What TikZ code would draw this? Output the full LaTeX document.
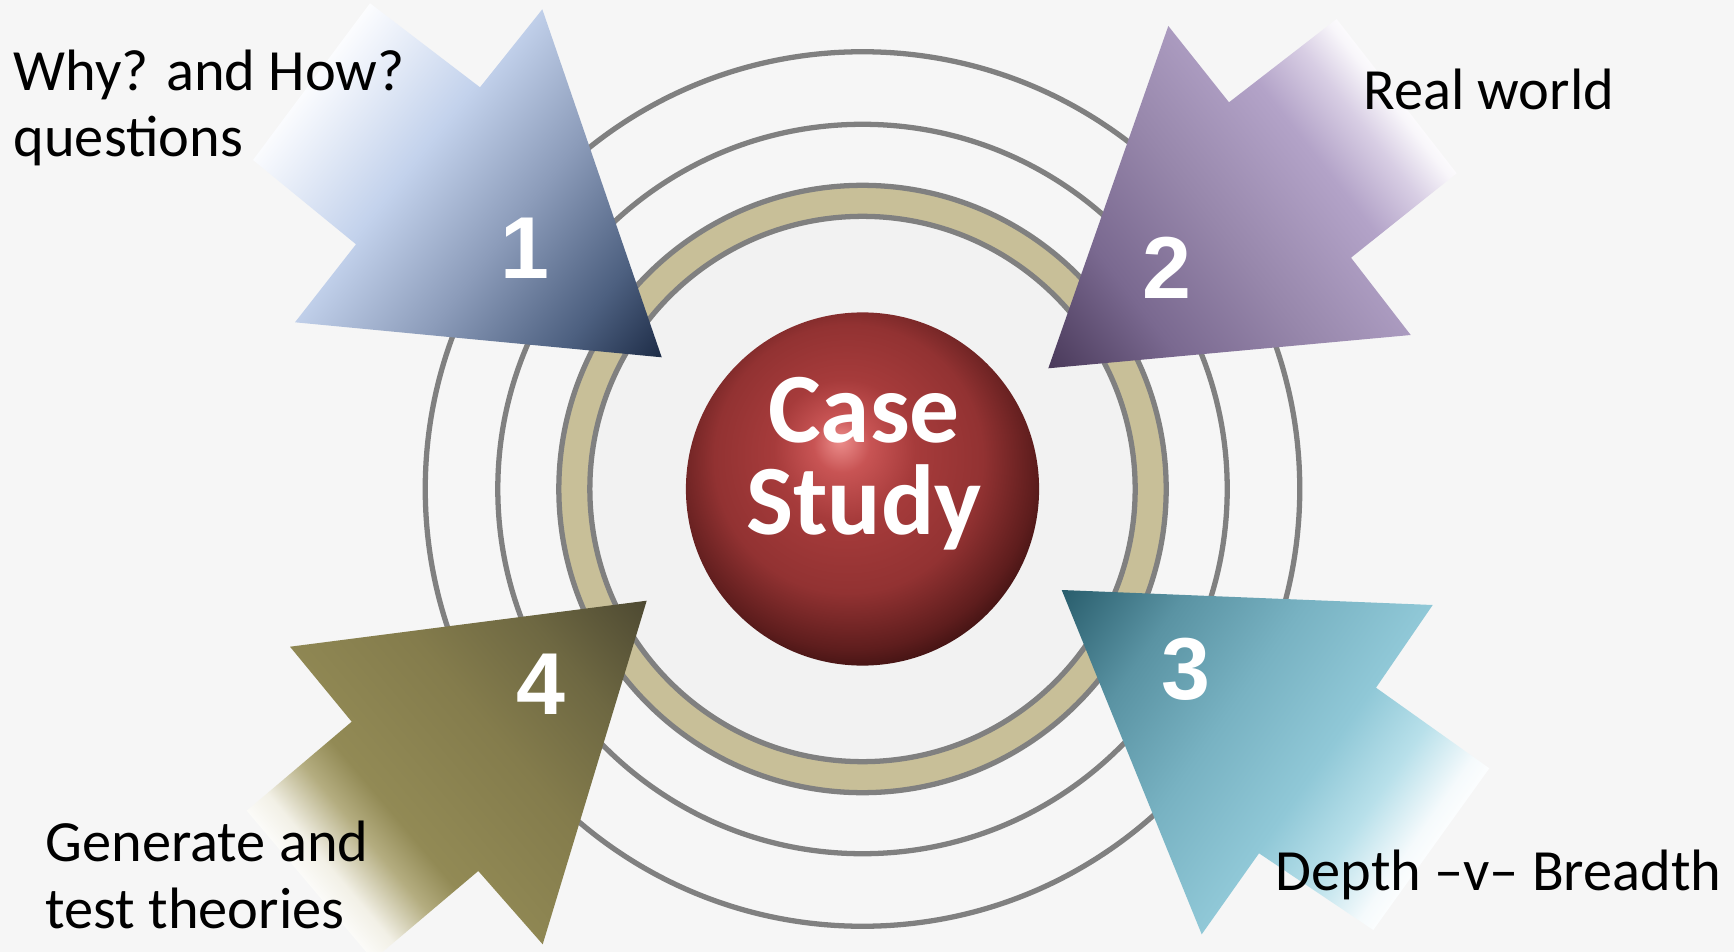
\documentclass[tikz,border=0pt]{standalone}
\usepackage{fontspec}
\setmainfont{Carlito}
\newfontfamily\numfont{Liberation Sans}
\usetikzlibrary{calc}

\definecolor{marble}{HTML}{F6F6F6}
\definecolor{ringgray}{HTML}{808080}
\definecolor{ringtan}{HTML}{C8BF98}
\definecolor{discgray}{HTML}{F2F2F2}

% arrow colours
\definecolor{oneA}{HTML}{F3F6FC}\definecolor{oneB}{HTML}{C3D2EC}\definecolor{oneC}{HTML}{8C9CBA}
\definecolor{oneD}{HTML}{4D6080}\definecolor{oneE}{HTML}{17253F}
\definecolor{twoA}{HTML}{F8F6FA}\definecolor{twoB}{HTML}{D8CEE4}\definecolor{twoC}{HTML}{B3A3C8}
\definecolor{twoD}{HTML}{9787AB}\definecolor{twoE}{HTML}{7A6990}\definecolor{twoF}{HTML}{453555}
\definecolor{threeA}{HTML}{F5FAFC}\definecolor{threeB}{HTML}{B8E0EA}\definecolor{threeC}{HTML}{90C8D7}
\definecolor{threeD}{HTML}{78B2C2}\definecolor{threeE}{HTML}{5A93A3}\definecolor{threeF}{HTML}{245867}
\definecolor{fourA}{HTML}{F2F0E6}\definecolor{fourB}{HTML}{B4AD80}\definecolor{fourC}{HTML}{928A55}
\definecolor{fourD}{HTML}{847C4C}\definecolor{fourE}{HTML}{6E6842}\definecolor{fourF}{HTML}{4A4630}
% sphere colours
\definecolor{sphA}{HTML}{EC8E8C}\definecolor{sphB}{HTML}{C85454}\definecolor{sphC}{HTML}{A63B3B}
\definecolor{sphD}{HTML}{923232}\definecolor{sphE}{HTML}{5E1D1D}\definecolor{sphF}{HTML}{2A0A0A}
\definecolor{sphG}{HTML}{1A0505}

\pgfdeclarehorizontalshading{shadeone}{100bp}{color(0bp)=(white); color(25bp)=(white);
  color(28bp)=(oneA); color(40bp)=(oneB); color(52.5bp)=(oneC); color(65bp)=(oneD);
  color(75bp)=(oneE); color(100bp)=(oneE)}
\pgfdeclarehorizontalshading{shadetwo}{100bp}{color(0bp)=(white); color(25bp)=(white);
  color(27bp)=(twoA); color(31bp)=(twoB); color(37bp)=(twoC); color(50bp)=(twoD);
  color(62bp)=(twoE); color(75bp)=(twoF); color(100bp)=(twoF)}
\pgfdeclarehorizontalshading{shadethree}{100bp}{color(0bp)=(white); color(25bp)=(white);
  color(28bp)=(threeA); color(34bp)=(threeB); color(41bp)=(threeC); color(52bp)=(threeD);
  color(63bp)=(threeE); color(75bp)=(threeF); color(100bp)=(threeF)}
\pgfdeclarehorizontalshading{shadefour}{100bp}{color(0bp)=(white); color(25bp)=(white);
  color(29bp)=(fourA); color(34bp)=(fourB); color(38bp)=(fourC); color(52bp)=(fourD);
  color(63bp)=(fourE); color(75bp)=(fourF); color(100bp)=(fourF)}
\pgfdeclareradialshading{casesphere}{\pgfpoint{-3.2bp}{6.9bp}}{color(0bp)=(sphA);
  color(4bp)=(sphB); color(10bp)=(sphC); color(19bp)=(sphD); color(26bp)=(sphE);
  color(31bp)=(sphF); color(50bp)=(sphG)}

% shaded arrow: [shading](tail centre)(angle:length){outline}
\def\gradarrow[#1](#2)(#3:#4)#5{%
  \begin{scope}
    \clip #5;
    \begin{scope}[transform canvas={shift={(#2)},rotate=#3}]
      \shade[shading=#1] (-10,-300) rectangle (#4+10,300);
    \end{scope}
  \end{scope}}

\tikzset{
  ringline/.style={draw=ringgray, line width=1.5pt},
  lbl/.style={inner sep=0pt, align=left, font=\fontsize{16.6}{19}\selectfont},
  numlbl/.style={inner sep=0pt, text=white, font=\numfont\bfseries\fontsize{25}{25}\selectfont}
}

\begin{document}
\begin{tikzpicture}[x=0.01cm, y=-0.01cm]
  \useasboundingbox (0,0) rectangle (1734,952);
  \fill[marble] (0,0) rectangle (1734,952);

  %%%%% rings %%%%%
  \coordinate (c) at (862.5,489);
  \draw[ringline] (c) circle (4.37cm);
  \draw[ringline] (c) circle (3.645cm);
  \draw[ringline, fill=ringtan] (c) circle (3.035cm);
  \draw[ringline, fill=discgray] (c) circle (2.725cm);

  %%%%% sphere %%%%%
  \shade[shading=casesphere] (c) circle (1.765cm);
  \node[inner sep=0pt, align=center, text=white,
        font=\bfseries\fontsize{28.3}{26.2}\selectfont] (case) at (864,464) {Case\\Study};

  %%%%% arrows %%%%%
  \gradarrow[shadeone](311.5,81.7)(-38.2:446){(661.7,357.3) -- (542.3,9.3) -- (480,87.3)
    -- (370,3.3) -- (253,160) -- (356,244.3) -- (295,322.3) -- cycle}
  \gradarrow[shadetwo](1396.7,96.2)(-142:442){(1048.3,368.3) -- (1168.3,26) -- (1229,102.3)
    -- (1336.7,19) -- (1456.7,173.3) -- (1351,257.7) -- (1410.7,335) -- cycle}
  \gradarrow[shadethree](1431.3,849.2)(145:451){(1061.7,590) -- (1432.7,605) -- (1376,687.7)
    -- (1489.3,768.3) -- (1373.3,930) -- (1259,853.3) -- (1201.7,934.3) -- cycle}
  \gradarrow[shadefour](309.9,885.4)(40.2:441){(646.7,600.7) -- (290,646.7) -- (351.7,721.7)
    -- (246.7,810.7) -- (373,960) -- (478.3,871) -- (542.7,944.3) -- cycle}

  \node[numlbl] (one) at (525,248) {1};
  \node[numlbl] (two) at (1166.7,268.3) {2};
  \node[numlbl] (three) at (1185.8,669) {3};
  \node[numlbl] (four) at (540.8,684) {4};

  %%%%% labels %%%%%
  \node[lbl, anchor=base west] (why) at (13,157) {Why? and How?\\questions};
  \node[lbl, anchor=base west] (real) at (1362.7,110) {Real world};
  \node[lbl, anchor=base west] (depth) at (1275,890) {Depth –v– Breadth};
  \node[lbl, anchor=base west] (generate) at (45,928) {Generate and\\test theories};
\end{tikzpicture}
\end{document}
